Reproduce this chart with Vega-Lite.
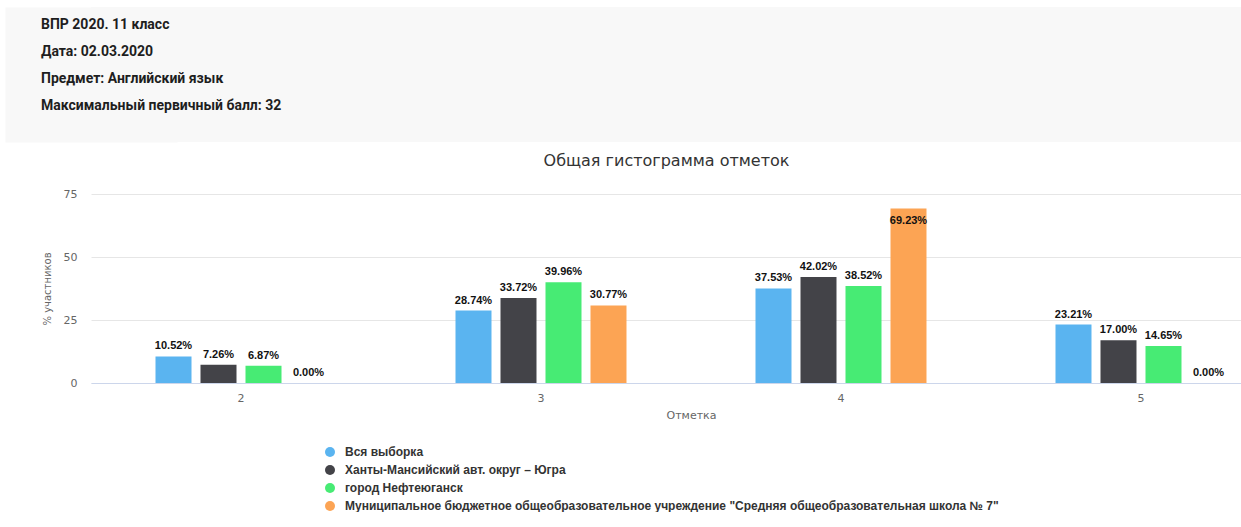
{
  "$schema": "https://vega.github.io/schema/vega-lite/v6.json",
  "background": "white",
  "padding": {"left": 4, "top": 7, "right": 0, "bottom": 0},
  "spacing": 11,
  "columns": 1,
  "align": "none",
  "config": {"view": {"stroke": null}, "font": "DejaVu Sans"},
  "concat": [
    {
      "width": 1151,
      "height": 135,
      "view": {"fill": "#f8f8f8", "stroke": null},
      "title": {
        "text": ["ВПР 2020. 11 класс", "Дата: 02.03.2020", "Предмет: Английский язык", "Максимальный первичный балл: 32"],
        "anchor": "start",
        "frame": "group",
        "orient": "top",
        "baseline": "top",
        "offset": -106,
        "dx": -50,
        "font": "Roboto",
        "fontSize": 14,
        "fontWeight": "bold",
        "color": "#1e1e1e",
        "lineHeight": 27
      },
      "data": {"values": [{"t": ""}]},
      "mark": {"type": "text"},
      "encoding": {
        "text": {"field": "t"},
        "y": {
          "field": "t",
          "type": "nominal",
          "axis": {"title": null, "labels": false, "ticks": false, "grid": false, "domain": true, "domainColor": "#f8f8f8", "domainWidth": 172}
        }
      }
    },
    {
      "width": 1151,
      "height": 189,
      "title": {
        "text": "Общая гистограмма отметок",
        "font": "DejaVu Sans",
        "fontSize": 16,
        "fontWeight": "normal",
        "color": "#333333",
        "offset": 19,
        "anchor": "middle",
        "frame": "group"
      },
      "data": {
        "values": [
          {"grade": "2", "series": "Вся выборка", "value": 10.52},
          {"grade": "2", "series": "Ханты-Мансийский авт. округ – Югра", "value": 7.26},
          {"grade": "2", "series": "город Нефтеюганск", "value": 6.87},
          {"grade": "2", "series": "Муниципальное бюджетное общеобразовательное учреждение \"Средняя общеобразовательная школа № 7\"", "value": 0.0},
          {"grade": "3", "series": "Вся выборка", "value": 28.74},
          {"grade": "3", "series": "Ханты-Мансийский авт. округ – Югра", "value": 33.72},
          {"grade": "3", "series": "город Нефтеюганск", "value": 39.96},
          {"grade": "3", "series": "Муниципальное бюджетное общеобразовательное учреждение \"Средняя общеобразовательная школа № 7\"", "value": 30.77},
          {"grade": "4", "series": "Вся выборка", "value": 37.53},
          {"grade": "4", "series": "Ханты-Мансийский авт. округ – Югра", "value": 42.02},
          {"grade": "4", "series": "город Нефтеюганск", "value": 38.52},
          {"grade": "4", "series": "Муниципальное бюджетное общеобразовательное учреждение \"Средняя общеобразовательная школа № 7\"", "value": 69.23},
          {"grade": "5", "series": "Вся выборка", "value": 23.21},
          {"grade": "5", "series": "Ханты-Мансийский авт. округ – Югра", "value": 17.0},
          {"grade": "5", "series": "город Нефтеюганск", "value": 14.65},
          {"grade": "5", "series": "Муниципальное бюджетное общеобразовательное учреждение \"Средняя общеобразовательная школа № 7\"", "value": 0.0}
        ]
      },
      "transform": [{"calculate": "format(datum.value, '.2f') + '%'", "as": "label"}],
      "encoding": {
        "x": {
          "field": "grade",
          "type": "nominal",
          "scale": {"paddingInner": 0.4, "paddingOuter": 0.11835, "align": 0.845},
          "axis": {
            "title": "Отметка",
            "titleX": 600,
            "labelAngle": 0,
            "ticks": false,
            "grid": false,
            "domainColor": "#ccd6eb",
            "labelColor": "#666666",
            "labelFontSize": 11,
            "labelPadding": 9,
            "titleColor": "#666666",
            "titleFontSize": 11,
            "titleFontWeight": "normal",
            "titlePadding": 6
          }
        },
        "xOffset": {
          "field": "series",
          "type": "nominal",
          "scale": {
            "domain": ["Вся выборка", "Ханты-Мансийский авт. округ – Югра", "город Нефтеюганск", "Муниципальное бюджетное общеобразовательное учреждение \"Средняя общеобразовательная школа № 7\""],
            "paddingInner": 0.2,
            "paddingOuter": 0.1
          }
        },
        "y": {
          "field": "value",
          "type": "quantitative",
          "scale": {"domain": [0, 75], "nice": false},
          "axis": {
            "title": ["", "% участников"],
            "titleLineHeight": 38,
            "values": [0, 25, 50, 75],
            "ticks": false,
            "domain": false,
            "gridColor": "#e6e6e6",
            "labelColor": "#666666",
            "labelFontSize": 11,
            "labelPadding": 14,
            "titleColor": "#666666",
            "titleFontSize": 10,
            "titleFontWeight": "normal",
            "titlePadding": 11
          }
        }
      },
      "layer": [
        {
          "mark": {"type": "bar"},
          "encoding": {
            "color": {
              "field": "series",
              "type": "nominal",
              "scale": {
                "domain": ["Вся выборка", "Ханты-Мансийский авт. округ – Югра", "город Нефтеюганск", "Муниципальное бюджетное общеобразовательное учреждение \"Средняя общеобразовательная школа № 7\""],
                "range": ["#5ab4f0", "#434348", "#47eb74", "#fca454"]
              },
              "legend": {
                "title": null,
                "orient": "none",
                "legendX": 233,
                "legendY": 439,
                "direction": "vertical",
                "symbolType": "circle",
                "symbolSize": 100,
                "symbolOpacity": 1,
                "symbolStrokeWidth": 0,
                "labelFont": "Liberation Sans",
                "labelFontSize": 12,
                "labelFontWeight": "bold",
                "labelColor": "#333333",
                "labelLimit": 900,
                "rowPadding": 6,
                "labelOffset": 9
              }
            }
          }
        },
        {
          "transform": [{"filter": "datum.value < 60"}],
          "mark": {"type": "text", "baseline": "bottom", "dy": -5, "font": "Liberation Sans", "fontSize": 11, "fontWeight": "bold", "color": "#111111"},
          "encoding": {"text": {"field": "label"}}
        },
        {
          "transform": [{"filter": "datum.value >= 60"}],
          "mark": {"type": "text", "baseline": "top", "dy": 6, "font": "Liberation Sans", "fontSize": 11, "fontWeight": "bold", "color": "#111111"},
          "encoding": {"text": {"field": "label"}}
        }
      ]
    }
  ]
}
